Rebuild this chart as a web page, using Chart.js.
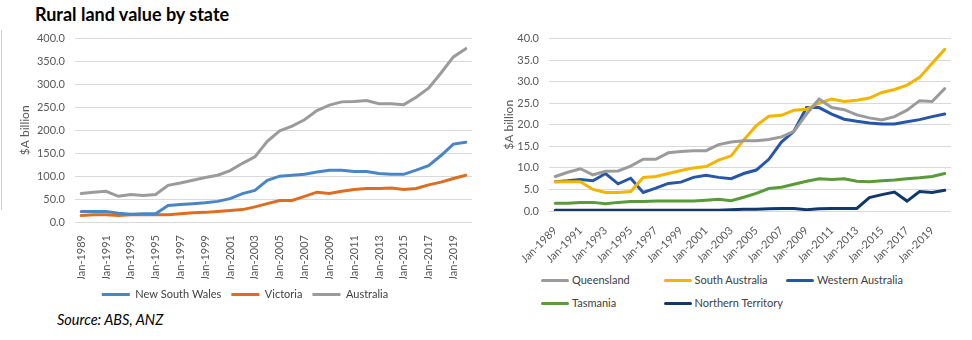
<!DOCTYPE html>
<html>
<head>
<meta charset="utf-8">
<script src="https://cdn.jsdelivr.net/npm/chart.js@4.4.1/dist/chart.umd.min.js"></script>
<style>
  body { margin: 0; background: #fff; font-family: Lato, sans-serif; }
  #wrap { position: relative; width: 972px; height: 340px; overflow: hidden; }
  #title { position: absolute; left: 35px; top: 3px; font-size: 18px; font-weight: bold; color: #000; }
  #source { position: absolute; left: 57px; top: 311px; font-size: 14.5px; font-style: italic; color: #000; }
  #edge { position: absolute; left: 1px; top: 30px; width: 1px; height: 180px; background: #d0d0d0; }
  #c1box { position: absolute; left: 0; top: 22px; width: 480px; height: 288px; }
  #c2box { position: absolute; left: 480px; top: 22px; width: 492px; height: 241px; }
  #legend2 { position: absolute; left: 541px; top: 272px; font-size: 11px; color: #404040; }
  .item { position: absolute; white-space: nowrap; line-height: 16px; }
  .item span.ln { display: inline-block; width: 28px; height: 3px; border-radius: 2px; vertical-align: middle; margin-right: 3px; position: relative; top: -1px; }
</style>
</head>
<body>
<div id="wrap">
  <div id="title">Rural land value by state</div>
  <div id="edge"></div>
  <div id="c1box"><canvas id="chart1"></canvas></div>
  <div id="c2box"><canvas id="chart2"></canvas></div>
  <div id="legend2"></div>
  <div id="source">Source: ABS, ANZ</div>
</div>
<script>
// years Jan-1989 .. Jan-2020
var years = ['Jan-1989','Jan-1990','Jan-1991','Jan-1992','Jan-1993','Jan-1994','Jan-1995','Jan-1996',
  'Jan-1997','Jan-1998','Jan-1999','Jan-2000','Jan-2001','Jan-2002','Jan-2003','Jan-2004',
  'Jan-2005','Jan-2006','Jan-2007','Jan-2008','Jan-2009','Jan-2010','Jan-2011','Jan-2012',
  'Jan-2013','Jan-2014','Jan-2015','Jan-2016','Jan-2017','Jan-2018','Jan-2019','Jan-2020'];

// left chart ($A billion)
var nsw = [23,23,23,19,17,18,18,36,38,40,42,45,51,62,69,91,100,102,104,109,113,113,110,110,106,104,104,113,123,145,170,174];
var vic = [14,16,16,14,16,16,16,16,18,20,21,23,25,27,33,40,47,47,56,65,62,67,71,73,73,74,71,73,81,87,95,102];
var aus = [62,65,67,56,60,58,60,80,85,91,97,102,112,128,142,176,199,209,223,243,255,262,263,265,258,258,256,272,292,325,360,378];

// right chart ($A billion)
var qld = [8.0,9.0,9.8,8.4,9.2,9.3,10.4,12.0,12.0,13.5,13.8,14.0,14.0,15.4,16.0,16.3,16.3,16.6,17.2,18.5,22.5,26.0,24.0,23.5,22.3,21.6,21.1,21.9,23.4,25.6,25.4,28.4];
var sa  = [6.8,6.8,6.8,5.0,4.3,4.3,4.5,7.8,8.0,8.7,9.4,10.0,10.3,11.8,12.8,16.5,19.8,22.0,22.2,23.4,23.6,25.0,26.0,25.4,25.7,26.2,27.5,28.2,29.2,31.0,34.3,37.5];
var wa  = [6.8,7.0,7.3,7.0,8.7,6.3,7.6,4.3,5.3,6.4,6.7,7.8,8.3,7.8,7.5,8.7,9.5,12.0,16.0,18.5,24.0,24.0,22.5,21.3,20.8,20.4,20.2,20.2,20.7,21.2,21.9,22.5];
var tas = [1.8,1.8,2.0,2.0,1.7,2.0,2.2,2.2,2.3,2.3,2.3,2.3,2.5,2.7,2.4,3.2,4.1,5.2,5.5,6.2,6.9,7.5,7.3,7.5,6.9,6.8,7.0,7.2,7.5,7.7,8.0,8.7];
var nt  = [0.2,0.2,0.2,0.2,0.2,0.2,0.2,0.2,0.2,0.2,0.2,0.2,0.2,0.2,0.3,0.4,0.4,0.5,0.6,0.6,0.3,0.5,0.6,0.6,0.6,3.1,3.8,4.4,2.3,4.5,4.3,4.8];

var tickFont = { family: 'Lato', size: 11 };
var gridCol = '#d9d9d9';
var txtCol = '#595959';

function series(label, data, color){
    return {
        label: label,
        data: data,
        borderColor: color,
        backgroundColor: color,
        borderWidth: 3,
        pointRadius: 0,
        tension: 0,
        borderCapStyle: 'round'
    };
}

function baseOptions(yMax, yStep, yWidth, rot, xHeight, padL, padR){
    return {
        responsive: true,
        maintainAspectRatio: false,
        animation: false,
        layout: { padding: { top: 0, right: padR, left: padL, bottom: 0 } },
        plugins: {
            tooltip: { enabled: false },
            legend: { display: false }
        },
        scales: {
            x: {
                offset: true,
                grid: { display: false },
                border: { display: false },
                ticks: {
                    autoSkip: false,
                    maxRotation: rot, minRotation: rot,
                    color: txtCol, font: tickFont, padding: 5,
                    callback: function(v, i){ return i % 2 == 0 ? years[i] : null; }
                },
                afterFit: function(s){ s.height = xHeight; }
            },
            y: {
                min: 0, max: yMax,
                grid: { color: gridCol, drawTicks: false },
                border: { display: false },
                ticks: {
                    stepSize: yStep, color: txtCol, font: tickFont, padding: 10,
                    callback: function(v){ return v.toFixed(1); }
                },
                title: { display: true, text: '$A billion', color: txtCol, font: { family: 'Lato', size: 12 }, padding: { top: 0, bottom: 4 } },
                afterFit: function(s){ s.width = yWidth; }
            }
        }
    };
}

var opt1 = baseOptions(400, 50, 57, 90, 57, 18, 8);
opt1.plugins.legend = {
    display: true,
    position: 'bottom',
    labels: {
        boxWidth: 28, boxHeight: 3, padding: 10,
        color: '#404040', font: { family: 'Lato', size: 11 },
        generateLabels: function(chart){
            var items = Chart.defaults.plugins.legend.labels.generateLabels(chart);
            items.forEach(function(it){ it.lineWidth = 0; });
            return items;
        }
    }
};

var chart1 = new Chart(document.getElementById('chart1'), {
    type: 'line',
    data: {
        labels: years,
        datasets: [
            series('New South Wales', nsw, '#4a86c6'),
            series('Victoria', vic, '#e06c1f'),
            series('Australia', aus, '#9b9b9b')
        ]
    },
    options: opt1
});

var rightSets = [
    series('Queensland', qld, '#9b9b9b'),
    series('South Australia', sa, '#f4b400'),
    series('Western Australia', wa, '#2656aa'),
    series('Tasmania', tas, '#5a9a38'),
    series('Northern Territory', nt, '#12386b')
];

var opt2 = baseOptions(40, 5, 47, 45, 52, 22, 21);
var chart2 = new Chart(document.getElementById('chart2'), {
    type: 'line',
    data: { labels: years, datasets: rightSets },
    options: opt2
});

// legend for right chart, three columns like the original
var leg = document.getElementById('legend2');
rightSets.forEach(function(ds, i){
    var d = document.createElement('div');
    d.className = 'item';
    d.style.left = (i % 3) * 122.5 + 'px';
    d.style.top = Math.floor(i / 3) * 23 + 'px';
    d.innerHTML = '<span class="ln" style="background:' + ds.borderColor + '"></span>' + ds.label;
    leg.appendChild(d);
});
</script>
</body>
</html>
